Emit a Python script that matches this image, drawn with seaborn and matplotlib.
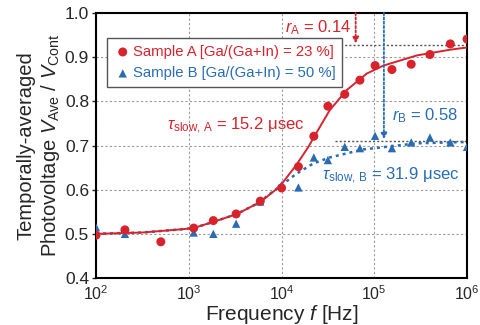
import numpy as np
import pandas as pd
import matplotlib
matplotlib.use("Agg")
import matplotlib.pyplot as plt
import seaborn as sns

# ---- data ----
freq_pts = [100, 205, 500, 1130, 1840, 3240, 5900, 10000, 15200, 22300,
            31600, 48000, 70000, 102000, 155000, 250000, 398000, 660000, 1000000]
sample_a = [0.497, 0.509, 0.482, 0.513, 0.530, 0.545, 0.574, 0.604, 0.652, 0.721,
            0.789, 0.816, 0.848, 0.881, 0.872, 0.884, 0.906, 0.930, 0.941]
freq_b = [100, 205, 1130, 1840, 3240, 5900, 10000, 15200, 22300,
          31600, 48000, 70000, 102000, 155000, 250000, 398000, 660000, 1000000]
sample_b = [0.515, 0.500, 0.503, 0.500, 0.523, 0.573, 0.610, 0.605, 0.673,
            0.667, 0.697, 0.694, 0.722, 0.694, 0.707, 0.718, 0.707, 0.697]

# fitted curves
fit_a_logf = [2.0, 2.5, 2.906, 3.05, 3.265, 3.52, 3.77, 3.98, 4.16, 4.29, 4.36, 4.52,
              4.70, 4.92, 5.10, 5.46, 5.82, 6.0]
fit_a_val = [0.500, 0.503, 0.510, 0.513, 0.527, 0.545, 0.572, 0.607, 0.656, 0.697, 0.723, 0.780,
             0.825, 0.863, 0.881, 0.904, 0.917, 0.922]
fit_b_logf = [2.0, 2.5, 2.906, 3.05, 3.265, 3.52, 3.77, 3.84, 3.98, 4.16, 4.34, 4.52,
              4.88, 5.17, 5.46, 6.0]
fit_b_val = [0.500, 0.503, 0.510, 0.513, 0.527, 0.545, 0.572, 0.585, 0.607, 0.636, 0.659, 0.673,
             0.691, 0.698, 0.705, 0.708]

label_a = "Sample A [Ga/(Ga+In) = 23 %]"
label_b = "Sample B [Ga/(Ga+In) = 50 %]"
r_a_freq, r_a_level = 63000, 0.928
r_b_freq, r_b_level = 127000, 0.711

RED = "#d8232c"
BLUE = "#2a6cb2"

sns.set_style("ticks")
plt.rcParams["font.family"] = ["Liberation Sans", "DejaVu Sans"]
plt.rcParams["mathtext.fontset"] = "custom"
plt.rcParams["mathtext.rm"] = "Liberation Sans"
plt.rcParams["mathtext.it"] = "Liberation Sans:italic"
plt.rcParams["mathtext.sf"] = "Liberation Sans"

fig = plt.figure(figsize=(4.81, 3.25), dpi=100)
ax = fig.add_axes([0.1996, 0.1446, 0.7714, 0.8154])

dfa = pd.DataFrame({"f": freq_pts, "v": sample_a})
dfb = pd.DataFrame({"f": freq_b, "v": sample_b})
fa = pd.DataFrame({"f": 10 ** np.array(fit_a_logf), "v": fit_a_val})
fb = pd.DataFrame({"f": 10 ** np.array(fit_b_logf), "v": fit_b_val})

ax.set_xscale("log")
ax.set_xlim(1e2, 1e6)
ax.set_ylim(0.4, 1.0)

# grid
ax.grid(True, which="major", color="#9a9a9a", linestyle=(0, (2, 2)), linewidth=0.8)
ax.minorticks_off()

# reference dotted lines
ax.plot([10 ** 4.5, 1e6], [r_a_level, r_a_level], color="#555555",
        linestyle=(0, (1.5, 1.5)), linewidth=1.0, zorder=2)
ax.plot([10 ** 4.58, 1e6], [r_b_level, r_b_level], color="#555555",
        linestyle=(0, (1.5, 1.5)), linewidth=1.0, zorder=2)

sns.lineplot(data=fb, x="f", y="v", ax=ax, color=BLUE, linestyle=(0, (1.2, 1.6)),
             linewidth=1.8, zorder=3, legend=False)
sns.lineplot(data=fa, x="f", y="v", ax=ax, color=RED, linewidth=1.4, zorder=4, legend=False)

sns.scatterplot(data=dfb, x="f", y="v", ax=ax, color=BLUE, marker="^", s=36,
                edgecolor="none", zorder=5, label=label_b)
sns.scatterplot(data=dfa, x="f", y="v", ax=ax, color=RED, marker="o", s=42,
                edgecolor="none", zorder=6, label=label_a)

# arrows
ax.annotate("", xy=(r_a_freq, 0.931), xytext=(r_a_freq, 1.0),
            arrowprops=dict(arrowstyle="-|>", color=RED, lw=1.3, linestyle=(0, (1.2, 1.2)),
                            mutation_scale=9, shrinkA=0, shrinkB=0), zorder=7)
ax.annotate("", xy=(r_b_freq, 0.714), xytext=(r_b_freq, 1.0),
            arrowprops=dict(arrowstyle="-|>", color=BLUE, lw=1.3, linestyle=(0, (1.2, 1.2)),
                            mutation_scale=9, shrinkA=0, shrinkB=0), zorder=7)

# text annotations
ax.text(10 ** 4.75, 0.967, r"$r_{\mathrm{A}}$ = 0.14", color=RED, fontsize=12,
        ha="right", va="center")
ax.text(10 ** 5.19, 0.767, r"$r_{\mathrm{B}}$ = 0.58", color=BLUE, fontsize=12,
        ha="left", va="center")
ax.text(10 ** 2.766, 0.745, r"$\tau_{\mathrm{slow,\,A}}$ = 15.2 $\mathrm{\mu}$sec", color=RED,
        fontsize=12, ha="left", va="center")
ax.text(10 ** 4.437, 0.632, r"$\tau_{\mathrm{slow,\,B}}$ = 31.9 $\mathrm{\mu}$sec", color=BLUE,
        fontsize=12, ha="left", va="center")

# legend
handles, labels = ax.get_legend_handles_labels()
order = [labels.index(label_a), labels.index(label_b)]
leg = ax.legend([handles[i] for i in order], [labels[i] for i in order],
                loc="upper left", bbox_to_anchor=(0.03, 0.905), fontsize=10.7,
                frameon=True, fancybox=False, edgecolor="#555555", framealpha=1,
                handletextpad=0.1, handlelength=1.2, borderpad=0.45, labelspacing=0.5,
                borderaxespad=0)
leg.get_frame().set_linewidth(1.0)
leg.set_zorder(10)
for txt, col in zip(leg.get_texts(), [RED, BLUE]):
    txt.set_color(col)

ax.set_xticks([1e2, 1e3, 1e4, 1e5, 1e6])
ax.set_yticks([0.4, 0.5, 0.6, 0.7, 0.8, 0.9, 1.0])
ax.set_yticklabels(["0.4", "0.5", "0.6", "0.7", "0.8", "0.9", "1.0"])
ax.tick_params(axis="y", labelsize=12.5, length=3, width=1, direction="out", pad=2)
ax.tick_params(axis="x", labelsize=11.5, length=0, pad=4.5)

ax.set_xlabel(r"Frequency $f$ [Hz]", fontsize=15, labelpad=0)
ax.set_ylabel("Temporally-averaged\n" + r"Photovoltage $V_{\mathrm{Ave}}$ / $V_{\mathrm{Cont}}$",
              fontsize=14.5, labelpad=2, linespacing=1.2)

for sp in ax.spines.values():
    sp.set_visible(True)
    sp.set_linewidth(1.5)
    sp.set_color("black")

fig.savefig("out.png", dpi=100)
